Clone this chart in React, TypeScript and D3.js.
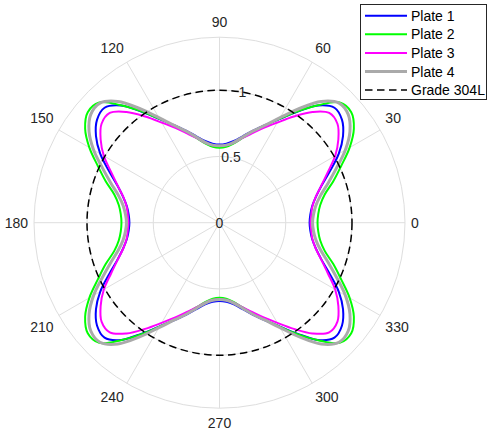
import React from 'react';
import * as d3 from 'd3';

const angleDeg = [0,5,10,15,20,25,30,35,40,45,50,55,60,65,70,75,80,85,90,95,100,105,110,115,120,125,130,135,140,145,150,155,160,165,170,175,180,185,190,195,200,205,210,215,220,225,230,235,240,245,250,255,260,265,270,275,280,285,290,295,300,305,310,315,320,325,330,335,340,345,350,355];

const plate1 = [0.680,0.688,0.710,0.753,0.820,0.919,1.039,1.138,1.207,1.227,1.155,1.022,0.903,0.812,0.740,0.675,0.626,0.599,0.590,
0.599,0.626,0.675,0.740,0.812,0.903,1.022,1.155,1.227,1.207,1.138,1.039,0.919,0.820,0.753,0.710,0.688,
0.680,
0.688,0.710,0.753,0.820,0.919,1.039,1.138,1.207,1.227,1.155,1.022,0.903,0.812,0.740,0.675,0.626,0.599,
0.590,
0.599,0.626,0.675,0.740,0.812,0.903,1.022,1.155,1.227,1.207,1.138,1.039,0.919,0.820,0.753,0.710,0.688];

const plate2 = [0.740,0.748,0.772,0.822,0.914,1.013,1.134,1.238,1.298,1.283,1.158,1.027,0.905,0.810,0.728,0.660,0.606,0.575,0.566,
0.575,0.606,0.660,0.728,0.810,0.905,1.027,1.158,1.283,1.298,1.238,1.134,1.013,0.914,0.822,0.772,0.748,
0.740,
0.748,0.772,0.822,0.914,1.013,1.134,1.238,1.298,1.283,1.158,1.027,0.905,0.810,0.728,0.660,0.606,0.575,
0.566,
0.575,0.606,0.660,0.728,0.810,0.905,1.027,1.158,1.283,1.298,1.238,1.134,1.013,0.914,0.822,0.772,0.748];

const plate3 = [0.687,0.695,0.712,0.752,0.818,0.902,1.008,1.095,1.162,1.171,1.091,0.978,0.873,0.789,0.717,0.660,0.612,0.586,0.578,
0.586,0.612,0.660,0.717,0.789,0.873,0.978,1.091,1.171,1.162,1.095,1.008,0.902,0.818,0.752,0.712,0.695,
0.687,
0.695,0.712,0.752,0.818,0.902,1.008,1.095,1.162,1.171,1.091,0.978,0.873,0.789,0.717,0.660,0.612,0.586,
0.578,
0.586,0.612,0.660,0.717,0.789,0.873,0.978,1.091,1.171,1.162,1.095,1.008,0.902,0.818,0.752,0.712,0.695];

const plate4 = [0.702,0.712,0.738,0.789,0.872,0.974,1.097,1.202,1.269,1.276,1.195,1.052,0.915,0.810,0.735,0.668,0.616,0.588,0.580,
0.588,0.616,0.668,0.735,0.810,0.915,1.052,1.195,1.276,1.269,1.202,1.097,0.974,0.872,0.789,0.738,0.712,
0.702,
0.712,0.738,0.789,0.872,0.974,1.097,1.202,1.269,1.276,1.195,1.052,0.915,0.810,0.735,0.668,0.616,0.588,
0.580,
0.588,0.616,0.668,0.735,0.810,0.915,1.052,1.195,1.276,1.269,1.202,1.097,0.974,0.872,0.789,0.738,0.712];

const grade304L = 1;

const thetaTicks = [0,30,60,90,120,150,180,210,240,270,300,330];
const thetaTickLabels = ['0','30','60','90','120','150','180','210','240','270','300','330'];
const rTicks = [0, 0.5, 1];
const rTickLabels = ['0','0.5','1'];
const rMax = 1.4;
const rAxisAngle = 80;

const seriesNames = ['Plate 1','Plate 2','Plate 3','Plate 4','Grade 304L'];

const W = 488, H = 437;
const cx = 219.5, cy = 222.7;
const font = "'Liberation Sans', Arial, Helvetica, sans-serif";
const gridColor = '#dedede';
const textColor = '#262626';
const dash = '7.5,4.5';

const series = [
  { name: seriesNames[0], values: plate1, color: '#0000ff', width: 2 },
  { name: seriesNames[1], values: plate2, color: '#00ff00', width: 2 },
  { name: seriesNames[2], values: plate3, color: '#ff00ff', width: 2 },
  { name: seriesNames[3], values: plate4, color: '#aaaaaa', width: 3 },
];

export default function App() {
  const r = d3.scaleLinear().domain([0, rMax]).range([0, 185.5]);
  const toRad = (d: number) => (d * Math.PI) / 180;
  const line = d3.lineRadial<number>()
    .angle((_, i) => Math.PI / 2 - toRad(angleDeg[i]))
    .radius((v) => r(v))
    .curve(d3.curveCatmullRomClosed.alpha(0.5));

  const labelR = 191.5;
  const hh = 8.8;

  return (
    <svg width={W} height={H} style={{ position: 'absolute', left: 0, top: 0, background: '#fff' }} fontFamily={font}>
      <rect x={0} y={0} width={W} height={H} fill="#fff" />
      <g transform={`translate(${cx},${cy})`}>
        {[0.5, 1, rMax].map((t) => (
          <circle key={t} r={r(t)} fill="none" stroke={gridColor} strokeWidth={1} />
        ))}
        {thetaTicks.map((t) => {
          const a = toRad(t);
          return (
            <line key={t} x1={0} y1={0} x2={r(rMax) * Math.cos(a)} y2={-r(rMax) * Math.sin(a)} stroke={gridColor} strokeWidth={1} />
          );
        })}
        {series.map((s) => (
          <path key={s.name} d={line(s.values) || ''} fill="none" stroke={s.color} strokeWidth={s.width} strokeLinejoin="round" />
        ))}
        <circle r={r(grade304L)} fill="none" stroke="#000" strokeWidth={1.5} strokeDasharray={dash} />
        {rTicks.map((t, i) => {
          const a = toRad(rAxisAngle);
          return (
            <text key={t} x={r(t) * Math.cos(a)} y={-r(t) * Math.sin(a)} textAnchor="middle" dominantBaseline="central" fontSize={14} fill={textColor}>
              {rTickLabels[i]}
            </text>
          );
        })}
        {thetaTicks.map((t, i) => {
          const a = toRad(t);
          const c = Math.cos(a), s = Math.sin(a);
          const ax = labelR * c, ay = -labelR * s;
          let anchor = 'middle';
          if (c > 0.01) anchor = 'start';
          else if (c < -0.01) anchor = 'end';
          let y = ay;
          if (s > 0.01) y = ay - hh;
          else if (s < -0.01) y = ay + hh;
          return (
            <text key={t} x={ax} y={y} textAnchor={anchor} dominantBaseline="central" fontSize={14} fill={textColor}>
              {thetaTickLabels[i]}
            </text>
          );
        })}
      </g>
      <g>
        <rect x={360.5} y={4.5} width={126} height={95} fill="#fff" stroke="#262626" strokeWidth={1} />
        {seriesNames.map((n, i) => {
          const y = 15.7 + i * 18.6;
          const s = series[i];
          return (
            <g key={n}>
              <line x1={365} x2={407} y1={y} y2={y}
                stroke={s ? s.color : '#000'}
                strokeWidth={s ? s.width : 1.5}
                strokeDasharray={s ? undefined : dash} />
              <text x={411} y={y} dominantBaseline="central" fontSize={14} fill="#000">{n}</text>
            </g>
          );
        })}
      </g>
    </svg>
  );
}
